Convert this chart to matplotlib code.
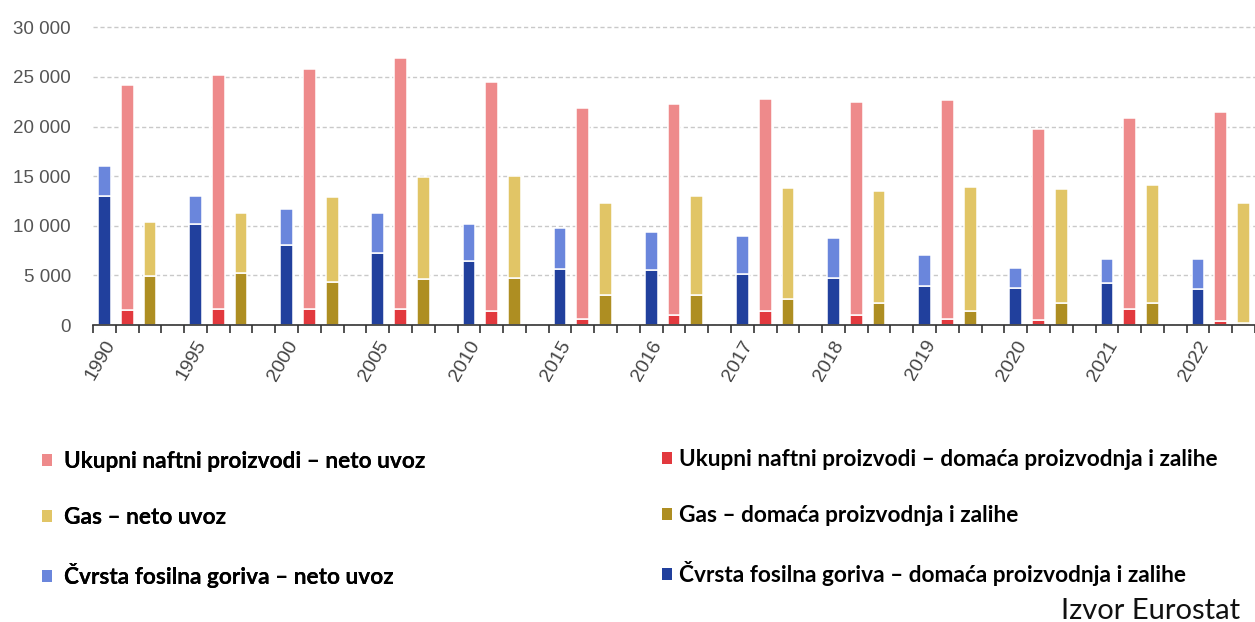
import matplotlib.pyplot as plt
from matplotlib.patches import Patch
from matplotlib.ticker import FuncFormatter

years = ['1990', '1995', '2000', '2005', '2010', '2015', '2016',
         '2017', '2018', '2019', '2020', '2021', '2022']

# thousand toe, split into domestic production/stocks and net imports
solid_domestic = [13000, 10200, 8050, 7300, 6400, 5650, 5550,
                  5100, 4750, 3950, 3750, 4200, 3600]
solid_import = [3000, 2800, 3600, 4000, 3800, 4100, 3800,
                3900, 4000, 3150, 2000, 2500, 3100]

oil_domestic = [1500, 1650, 1650, 1580, 1400, 600, 1050,
                1400, 1050, 650, 550, 1650, 400]
oil_import = [22700, 23550, 24150, 25350, 23050, 21250, 21250,
              21400, 21450, 22000, 19250, 19250, 21050]

gas_domestic = [4900, 5200, 4350, 4600, 4750, 3000, 3000,
                2600, 2200, 1400, 2200, 2200, 200]
gas_import = [5500, 6050, 8500, 10350, 10300, 9300, 10000,
              11250, 11350, 12550, 11500, 11900, 12050]

labels_import = ['Ukupni naftni proizvodi – neto uvoz',
                 'Gas – neto uvoz',
                 'Čvrsta fosilna goriva – neto uvoz']
labels_domestic = ['Ukupni naftni proizvodi – domaća proizvodnja i zalihe',
                   'Gas – domaća proizvodnja i zalihe',
                   'Čvrsta fosilna goriva – domaća proizvodnja i zalihe']

C_SOLID_DOM, C_SOLID_IMP = '#21409d', '#6a86dc'
C_OIL_DOM, C_OIL_IMP = '#e2393e', '#ee8a8b'
C_GAS_DOM, C_GAS_IMP = '#ae8e22', '#e1c566'


def main():
    fig = plt.figure(figsize=(12.55, 6.22), dpi=100)
    ax = fig.add_axes([93 / 1255, 1 - 325 / 622, 1 - 93 / 1255, 307.6 / 622])

    # four slots per year: solid, oil, gas, gap
    pos = [4 * i for i in range(len(years))]
    w = 0.56
    bar_kw = dict(width=w, edgecolor='white', linewidth=1.1, zorder=3)

    ax.bar(pos, solid_domestic, color=C_SOLID_DOM, **bar_kw)
    ax.bar(pos, solid_import, bottom=solid_domestic, color=C_SOLID_IMP, **bar_kw)

    p_oil = [p + 1 for p in pos]
    ax.bar(p_oil, oil_domestic, color=C_OIL_DOM, **bar_kw)
    ax.bar(p_oil, oil_import, bottom=oil_domestic, color=C_OIL_IMP, **bar_kw)

    p_gas = [p + 2 for p in pos]
    ax.bar(p_gas, gas_domestic, color=C_GAS_DOM, **bar_kw)
    ax.bar(p_gas, gas_import, bottom=gas_domestic, color=C_GAS_IMP, **bar_kw)

    ax.set_xlim(-0.5, 50.3)
    ax.set_ylim(0, 31000)
    ax.set_yticks(range(0, 30001, 5000))
    ax.yaxis.set_major_formatter(
        FuncFormatter(lambda v, _: f'{int(v):,}'.replace(',', ' ')))
    ax.yaxis.grid(True, linestyle=(0, (3, 2)), color='#c9c9c9', linewidth=1)
    ax.set_axisbelow(True)

    for s in ['top', 'right', 'left']:
        ax.spines[s].set_visible(False)
    ax.spines['bottom'].set_color('#333333')
    ax.spines['bottom'].set_linewidth(1.2)
    ax.spines['bottom'].set_zorder(5)

    # tick marks on every slot boundary, year labels as minor ticks
    ax.set_xticks([i - 0.5 for i in range(52)])
    ax.tick_params(axis='x', which='major', direction='out', length=6,
                   width=1.2, color='#333333', labelbottom=False)
    ax.set_xticks([p + 0.3 for p in pos], minor=True)
    ax.set_xticklabels(years, minor=True, rotation=60, ha='right',
                       va='center', rotation_mode='anchor')
    ax.tick_params(axis='x', which='minor', length=0, pad=12,
                   labelsize=14, labelcolor='#444444')
    ax.tick_params(axis='y', length=0, pad=16, labelsize=13.5,
                   labelcolor='#555555')
    for t in (ax.get_xticklabels(minor=True) + ax.get_yticklabels()):
        t.set_fontfamily('Liberation Sans')

    leg_font = dict(family='Lato', weight='bold', size=16.3)
    h_imp = [Patch(facecolor=c) for c in (C_OIL_IMP, C_GAS_IMP, C_SOLID_IMP)]
    h_dom = [Patch(facecolor=c) for c in (C_OIL_DOM, C_GAS_DOM, C_SOLID_DOM)]
    leg_kw = dict(loc='upper left', frameon=False, prop=leg_font,
                  handlelength=0.42, handleheight=0.42,
                  labelspacing=1.55, borderaxespad=0, borderpad=0)
    leg1 = fig.legend(h_imp, labels_import, handletextpad=0.55,
                      bbox_to_anchor=(42 / 1255, 1 - 451 / 622), **leg_kw)
    fig.legend(h_dom, labels_domestic, handletextpad=0.35,
               bbox_to_anchor=(662 / 1255, 1 - 449 / 622), **leg_kw)
    fig.add_artist(leg1)

    fig.text(1240 / 1255, 1 - 611 / 622, 'Izvor Eurostat', ha='right',
             va='center', fontfamily='Lato', fontsize=21, color='#111111')

    fig.savefig('out.png', dpi=100)
    plt.close(fig)


if __name__ == '__main__':
    main()
